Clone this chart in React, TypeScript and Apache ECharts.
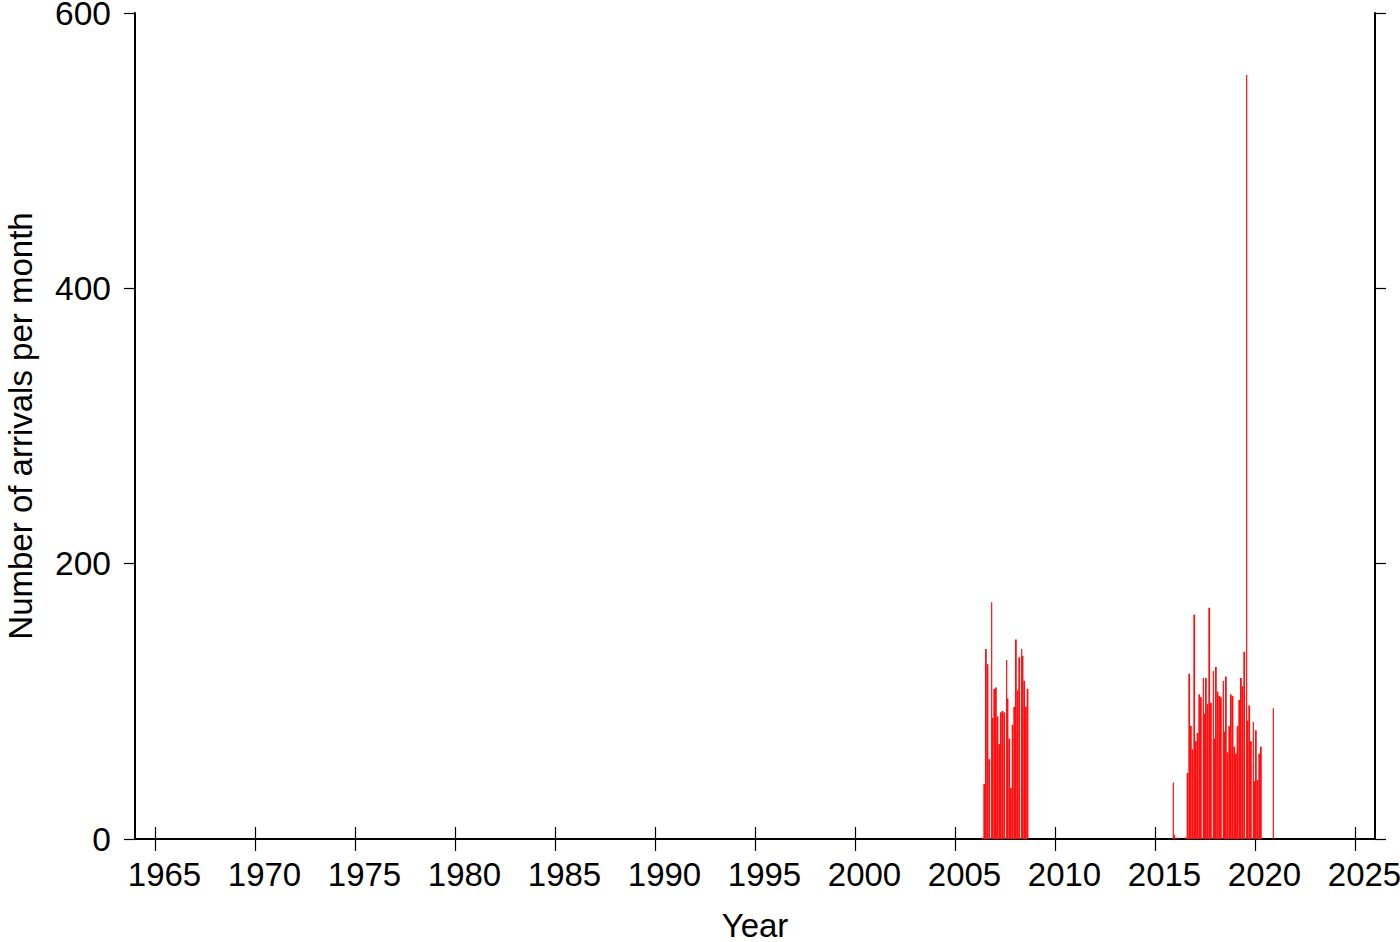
import { useEffect, useRef } from "react";
import * as echarts from "echarts";

const yearTicks = [1965, 1970, 1975, 1980, 1985, 1990, 1995, 2000, 2005, 2010, 2015, 2020, 2025];
const countTicks = [0, 200, 400, 600];

// monthly counts, first cluster starting May 2006
const cluster1Start = "2006-05";
const cluster1Counts = [1, 40, 138, 127, 58, 172, 88, 109, 110, 89, 69, 92, 93, 92, 130, 102, 73, 37, 83, 96, 145, 108, 132, 138, 133, 115, 96, 109];

// monthly counts, second cluster starting July 2016
const cluster2Start = "2016-07";
const cluster2Counts = [1, 48, 120, 82, 65, 163, 71, 77, 105, 103, 117, 91, 117, 98, 168, 99, 122, 73, 125, 107, 104, 103, 115, 78, 118, 63, 82, 105, 104, 67, 62, 82, 101, 117, 111, 136, 555, 86, 97, 71, 85, 42, 79, 43, 62, 67];

// isolated months
const isolatedMonths = ["2015-11", "2015-12", "2016-02", "2020-11"];
const isolatedCounts = [41, 3, 1, 95];

// months drawn as thin spikes
const narrowMonths = ["2006-10", "2007-07", "2008-04", "2015-11", "2017-05", "2017-11", "2018-05", "2019-07", "2019-11", "2020-11"];

const monthToYear = (m: string) => {
  const [y, mo] = m.split("-").map(Number);
  return y + (mo - 1) / 12;
};
const addMonths = (m: string, k: number) => {
  const [y, mo] = m.split("-").map(Number);
  const t = y * 12 + (mo - 1) + k;
  const yy = Math.floor(t / 12);
  const mm = (t % 12) + 1;
  return `${yy}-${String(mm).padStart(2, "0")}`;
};

function buildData() {
  const rows: [number, number, number][] = [];
  const push = (m: string, v: number) => rows.push([monthToYear(m), v, narrowMonths.includes(m) ? 1 : 0]);
  cluster1Counts.forEach((v, i) => push(addMonths(cluster1Start, i), v));
  cluster2Counts.forEach((v, i) => push(addMonths(cluster2Start, i), v));
  isolatedMonths.forEach((m, i) => push(m, isolatedCounts[i]));
  return rows;
}

const FONT = "'Liberation Sans', Arial, Helvetica, sans-serif";

export default function App() {
  const ref = useRef<HTMLDivElement>(null);
  useEffect(() => {
    if (!ref.current) return;
    const chart = echarts.init(ref.current, null, { renderer: "svg" });
    const axisLine = { show: true, lineStyle: { color: "#000", width: 2 } };
    const tickStyle = { color: "#000", width: 1.2 };
    chart.setOption({
      animation: false,
      backgroundColor: "#fff",
      grid: { left: 135, right: 25, top: 13, bottom: 103, containLabel: false, outerBoundsMode: "none" },
      xAxis: [
        {
          type: "value",
          position: "bottom",
          min: 1964,
          max: 2026,
          axisLine,
          axisTick: { show: true, inside: false, length: 12, lineStyle: tickStyle, customValues: yearTicks },
          axisLabel: {
            customValues: yearTicks,
            fontSize: 33,
            color: "#000",
            fontFamily: FONT,
            margin: 21,
            padding: [0, 0, 0, 19],
            lineHeight: 28,
            formatter: (v: number) => String(v),
          },
          splitLine: { show: false },
          name: "Year",
          nameLocation: "middle",
          nameGap: 73,
          nameTextStyle: { fontSize: 33, color: "#000", fontFamily: FONT, lineHeight: 26 },
        },
        {
          type: "value",
          position: "top",
          min: 1964,
          max: 2026,
          axisLine,
          axisTick: { show: true, inside: false, length: 12, lineStyle: tickStyle, customValues: yearTicks },
          axisLabel: { show: false },
          splitLine: { show: false },
        },
      ],
      yAxis: [
        {
          type: "value",
          position: "left",
          min: 0,
          max: 600,
          interval: 200,
          axisLine,
          axisTick: { show: true, inside: false, length: 11, lineStyle: tickStyle, customValues: countTicks },
          axisLabel: {
            customValues: countTicks,
            fontSize: 33.5,
            color: "#000",
            fontFamily: FONT,
            margin: 24,
            lineHeight: 26,
            formatter: (v: number) => String(v),
          },
          splitLine: { show: false },
          name: "Number of arrivals per month",
          nameLocation: "middle",
          nameGap: 101,
          nameTextStyle: { fontSize: 33, color: "#000", fontFamily: FONT, lineHeight: 28 },
        },
        {
          type: "value",
          position: "right",
          min: 0,
          max: 600,
          interval: 200,
          axisLine,
          axisTick: { show: true, inside: false, length: 11, lineStyle: tickStyle },
          axisLabel: { show: false },
          splitLine: { show: false },
        },
      ],
      series: [
        {
          type: "custom",
          xAxisIndex: 0,
          yAxisIndex: 0,
          clip: true,
          encode: { x: 0, y: 1 },
          data: buildData(),
          renderItem: (_params: any, api: any) => {
            const left = api.value(0);
            const v = api.value(1);
            const narrow = api.value(2);
            const a = api.coord([left, 0]);
            const b = api.coord([left + 1 / 12, v]);
            let x0 = a[0];
            let x1 = b[0];
            if (narrow) {
              x0 = x1 - 0.6;
              x1 = x1 + 0.6;
            } else {
              x1 += 0.1;
            }
            return {
              type: "rect",
              shape: { x: x0, y: b[1], width: x1 - x0, height: a[1] - b[1] },
              style: { fill: "#ff0f0f" },
            };
          },
        },
      ],
    });
    return () => chart.dispose();
  }, []);
  return <div ref={ref} style={{ position: "fixed", left: 0, top: 0, width: 1400, height: 942 }} />;
}
